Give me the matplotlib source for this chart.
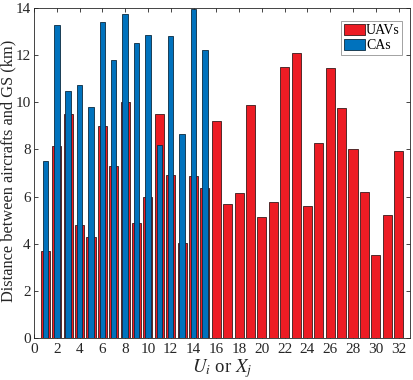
import numpy as np
import matplotlib
matplotlib.use("Agg")
import matplotlib.pyplot as plt

# distances (km)
uav_ids = np.arange(1, 33)
uav_dist = [3.7, 8.15, 9.5, 4.8, 4.3, 9.0, 7.3, 10.0, 4.9, 6.0,
            9.5, 6.9, 4.05, 6.88, 6.36, 9.2, 5.67, 6.17, 9.87, 5.15,
            5.78, 11.5, 12.1, 5.61, 8.26, 11.44, 9.74, 8.02, 6.2, 3.52,
            5.22, 7.92]
ca_ids = np.arange(1, 16)
ca_dist = [7.5, 13.28, 10.48, 10.72, 9.79, 13.39, 11.78, 13.75, 12.5, 12.84,
           8.17, 12.81, 8.65, 13.94, 12.2]

x_ticks = np.arange(0, 33, 2)
y_ticks = np.arange(0, 15, 2)

plt.rcParams['font.family'] = ['Liberation Serif', 'DejaVu Serif']
plt.rcParams['mathtext.fontset'] = 'stix'

gray = '#262626'
fig = plt.figure(figsize=(4.14, 3.80), dpi=100)
ax = fig.add_axes([34 / 414, 1 - 338 / 380, 376 / 414, 330 / 380])

ax.bar(uav_ids, uav_dist, width=0.8, color='#ED1C24', edgecolor='#3a1a1a',
       linewidth=0.6, label='UAVs', zorder=2)
ax.bar(ca_ids, ca_dist, width=0.48, color='#0072BD', edgecolor='#0a2a40',
       linewidth=0.6, label='CAs', zorder=3)

ax.set_xlim(0, 33)
ax.set_ylim(0, 14)
ax.set_xticks(x_ticks)
ax.set_yticks(y_ticks)
ax.tick_params(direction='in', top=True, right=True, length=3, width=0.6,
               colors=gray, labelsize=11, labelcolor=gray)
ax.tick_params(axis='y', pad=2.5)
for s in ax.spines.values():
    s.set_color(gray)
    s.set_linewidth(0.6)

ax.set_xlabel('$U_i$ or $X_j$', fontsize=13.5, color=gray, labelpad=1)
ax.set_ylabel('Distance between aircrafts and GS (km)', fontsize=11.8,
              color=gray)
ax.yaxis.set_label_coords(-0.048, 0.505)

leg = ax.legend(loc='upper right', bbox_to_anchor=(0.98, 0.96), fontsize=10,
                frameon=True, fancybox=False, handlelength=1.5, handleheight=0.8,
                handletextpad=0.1, borderpad=0.2, labelspacing=0.15,
                borderaxespad=0)
leg.get_frame().set_edgecolor('#777777')
leg.get_frame().set_linewidth(0.6)

fig.savefig('out.png', dpi=100)
